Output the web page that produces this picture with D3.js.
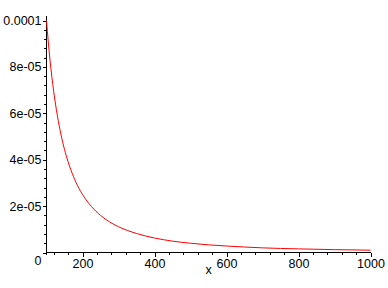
<!DOCTYPE html>
<html>
<head>
<script src="https://cdn.jsdelivr.net/npm/d3@7"></script>
<style>
  body { margin: 0; background: #fff; }
  svg text { font-family: "Liberation Sans", Arial, sans-serif; font-size: 12.5px; fill: #000; }
</style>
</head>
<body>
<svg id="chart" width="388" height="288"></svg>
<script>
// values
var xs = [100, 105, 110, 115, 120, 130, 140, 150, 160, 175, 190, 200, 225, 250, 275, 300, 350, 400, 450, 500, 550, 600, 700, 800, 900, 1000];
var ys = [1.0e-4, 9.07e-5, 8.26e-5, 7.56e-5, 6.94e-5, 5.92e-5, 5.10e-5, 4.44e-5, 3.91e-5, 3.27e-5, 2.77e-5, 2.5e-5, 1.98e-5, 1.6e-5, 1.32e-5, 1.11e-5, 8.2e-6, 6.25e-6, 4.9e-6, 4.0e-6, 3.3e-6, 2.8e-6, 2.0e-6, 1.56e-6, 1.23e-6, 1.0e-6];

var xTicks = [200, 400, 600, 800, 1000];
var xTickLabels = ["200", "400", "600", "800", "1000"];
var yTicks = [0, 2e-5, 4e-5, 6e-5, 8e-5, 1e-4];
var yTickLabels = ["0", "2e-05", "4e-05", "6e-05", "8e-05", "0.0001"];
var xMinor = d3.range(120, 1000, 40).filter(function(v) { return v % 200 != 0; });
var yMinor = d3.range(0, 1.0001e-4, 4e-6).filter(function(v) { return Math.abs(v / 2e-5 - Math.round(v / 2e-5)) > 1e-6; });

var svg = d3.select("svg#chart");
var x = d3.scaleLinear().domain([100, 1000]).range([46.5, 370.5]);
var y = d3.scaleLinear().domain([0, 1e-4]).range([252.5, 20.5]);

// minor ticks
svg.append("g").attr("transform", "translate(0,252.5)")
    .call(d3.axisBottom(x).tickValues(xMinor).tickSize(2).tickFormat(""))
    .call(function(g) { g.select(".domain").remove(); });
svg.append("g").attr("transform", "translate(46.5,0)")
    .call(d3.axisLeft(y).tickValues(yMinor).tickSize(3).tickFormat(""))
    .call(function(g) { g.select(".domain").remove(); });

// major ticks + labels
var gx = svg.append("g").attr("transform", "translate(0,252.5)")
    .call(d3.axisBottom(x).tickValues(xTicks).tickSize(4).tickPadding(3)
        .tickFormat(function(d, i) { return xTickLabels[i]; }));
gx.select(".domain").remove();

var gy = svg.append("g").attr("transform", "translate(46.5,0)")
    .call(d3.axisLeft(y).tickValues(yTicks).tickSize(4).tickPadding(1)
        .tickFormat(function(d, i) { return yTickLabels[i]; }));
gy.select(".domain").remove();
gy.selectAll(".tick text").filter(function(d) { return d == 0; }).attr("dy", "0.95em");

svg.selectAll(".tick line").attr("stroke", "#000").attr("shape-rendering", "crispEdges");
svg.selectAll(".tick text").attr("font-family", null).attr("font-size", null);

// axis lines
svg.append("line").attr("x1", x(100)).attr("x2", x(1000)).attr("y1", y(0)).attr("y2", y(0))
    .attr("stroke", "#000").attr("shape-rendering", "crispEdges");
svg.append("line").attr("x1", x(100)).attr("x2", x(100)).attr("y1", y(0) + 2).attr("y2", y(1e-4) - 5)
    .attr("stroke", "#000").attr("shape-rendering", "crispEdges");

svg.append("text").attr("x", (x(100) + x(1000)) / 2).attr("y", 274).attr("text-anchor", "middle").text("x");

// curve
var pts = xs.map(function(v, i) { return [v, ys[i]]; });
svg.append("path").datum(pts).attr("fill", "none").attr("stroke", "#ff0000").attr("stroke-width", 1)
    .attr("d", d3.line().curve(d3.curveMonotoneX).x(function(d) { return x(d[0]); }).y(function(d) { return y(d[1]); }));
</script>
</body>
</html>
